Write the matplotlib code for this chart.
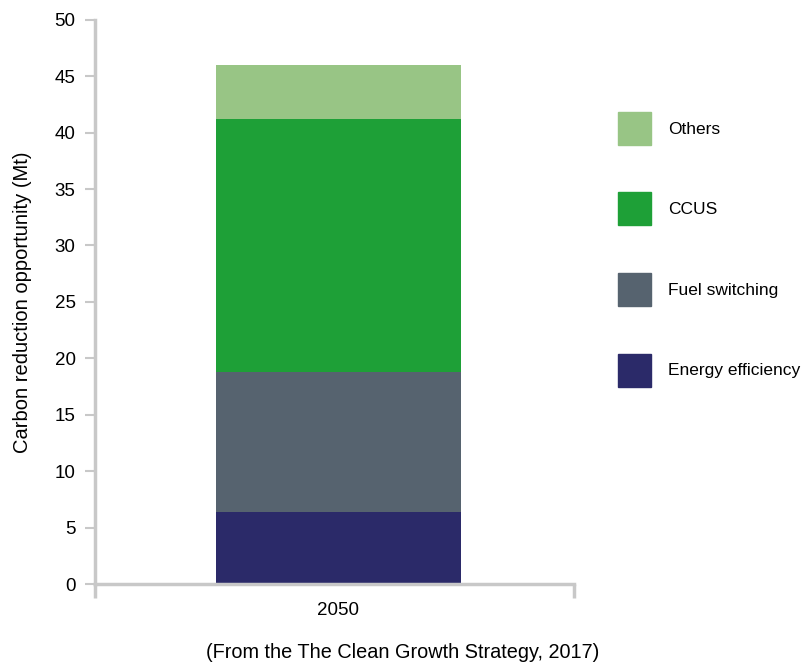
import matplotlib.pyplot as plt
from matplotlib.patches import Rectangle

plt.rcParams['font.family'] = ['Liberation Sans', 'DejaVu Sans']

# Carbon reduction opportunity by 2050 (Mt), stacked bottom to top
year = ['2050']
sources = ['Energy efficiency', 'Fuel switching', 'CCUS', 'Others']
values = [6.4, 12.4, 22.4, 4.8]
colors = ['#2b2a69', '#56636f', '#1ea037', '#98c585']

fig = plt.figure(figsize=(8.01, 6.65), dpi=100)
ax = fig.add_axes([0.1186, 0.1218, 0.598, 0.8485])

bottom = 0
for src, v, c in zip(sources, values, colors):
    ax.bar(0, v, width=0.512, bottom=bottom, color=c, label=src)
    bottom += v

ax.set_xlim(-0.508, 0.492)
ax.set_ylim(0, 50)
ax.set_yticks(range(0, 51, 5))
ax.set_xticks([0])
ax.set_xticklabels(year)
ax.set_xticks([-0.508, 0.492], minor=True)

axis_grey = '#c8c8c8'
for side in ['top', 'right']:
    ax.spines[side].set_visible(False)
for side in ['left', 'bottom']:
    ax.spines[side].set_color(axis_grey)
    ax.spines[side].set_linewidth(2.5)

ax.tick_params(axis='y', colors=axis_grey, labelcolor='black', length=7, width=1.5,
               pad=7, labelsize=13.5)
ax.tick_params(axis='x', which='major', length=0, pad=13, labelsize=13.5)
ax.tick_params(axis='x', which='minor', colors=axis_grey, length=10, width=2.5)

ax.set_ylabel('Carbon reduction opportunity (Mt)', fontsize=14.5, labelpad=16)

# Legend drawn as squares on the right, top entry first
fig_h = 665
fig_w = 801
legend_tops = [354, 273, 192, 112]
for src, c, top in zip(sources, colors, legend_tops):
    fig.add_artist(Rectangle((618 / fig_w, 1 - (top + 33) / fig_h), 33 / fig_w, 33 / fig_h,
                             transform=fig.transFigure, color=c))
    fig.text(668 / fig_w, 1 - (top + 17) / fig_h, src, fontsize=12.5, va='center', ha='left')

fig.text(403 / fig_w, 1 - 653 / fig_h, '(From the The Clean Growth Strategy, 2017)',
         fontsize=14.3, ha='center', va='center')

fig.savefig('out.png', dpi=100)
